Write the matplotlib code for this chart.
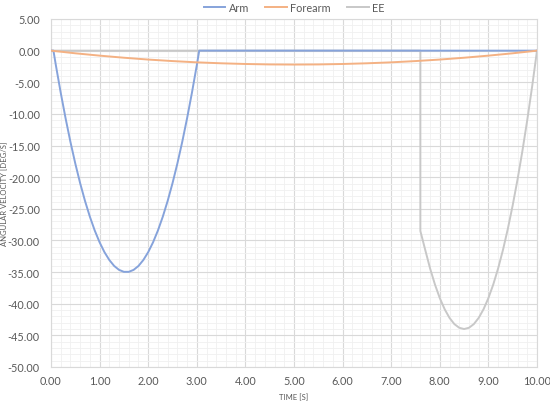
import matplotlib.pyplot as plt
from matplotlib.ticker import MultipleLocator, FormatStrFormatter

plt.rcParams["font.family"] = ["Lato", "DejaVu Sans"]

# time samples (s) and angular velocity (deg/s)
t_arm = [0.0, 0.05, 0.1, 0.2, 0.3, 0.4, 0.5, 0.6, 0.7, 0.8, 0.9, 1.0,
         1.1, 1.2, 1.3, 1.4, 1.5, 1.6, 1.7, 1.8, 1.9, 2.0,
         2.1, 2.2, 2.3, 2.4, 2.5, 2.6, 2.7, 2.8, 2.9, 3.0, 3.05, 10.0]
arm = [0.0, 0.0, -2.30, -6.65, -10.69, -14.43, -17.85, -20.96, -23.76, -26.25, -28.43, -30.29,
       -31.85, -33.09, -34.03, -34.65, -34.96, -34.96, -34.65, -34.03, -33.09, -31.85,
       -30.29, -28.43, -26.25, -23.76, -20.96, -17.85, -14.43, -10.69, -6.65, -2.30, 0.0, 0.0]

t_fore = [0.0, 0.5, 1.0, 1.5, 2.0, 2.5, 3.0, 3.5, 4.0, 4.5, 5.0,
          5.5, 6.0, 6.5, 7.0, 7.5, 8.0, 8.5, 9.0, 9.5, 10.0]
forearm = [0.0, -0.42, -0.79, -1.12, -1.41, -1.65, -1.85, -2.00, -2.11, -2.18, -2.20,
           -2.18, -2.11, -2.00, -1.85, -1.65, -1.41, -1.12, -0.79, -0.42, 0.0]

t_ee = [0.0, 7.6, 7.6, 7.7, 7.8, 7.9, 8.0, 8.1, 8.2, 8.3, 8.4, 8.5,
        8.6, 8.7, 8.8, 8.9, 9.0, 9.1, 9.2, 9.3, 9.4, 9.5, 9.6, 9.7, 9.8, 9.9, 10.0]
ee = [0.0, 0.0, -28.5, -31.49, -34.42, -36.96, -39.11, -40.87, -42.24, -43.22, -43.80, -44.0,
      -43.80, -43.22, -42.24, -40.87, -39.11, -36.96, -34.42, -31.49, -28.16, -24.44, -20.34,
      -15.84, -10.95, -5.67, 0.0]

fig = plt.figure(figsize=(5.5, 4.02), dpi=100)
ax = fig.add_axes([51 / 550, 34 / 402, 486 / 550, 348 / 402])

ax.plot(t_arm, arm, color="#86A3DB", lw=1.4, label="Arm", zorder=3)
ax.plot(t_fore, forearm, color="#F4B183", lw=1.4, label="Forearm", zorder=3)
ax.plot(t_ee, ee, color="#C8C8C8", lw=1.4, label="EE", zorder=2)

ax.set_xlim(0, 10)
ax.set_ylim(-50, 5)
ax.xaxis.set_major_locator(MultipleLocator(1))
ax.xaxis.set_minor_locator(MultipleLocator(0.2))
ax.yaxis.set_major_locator(MultipleLocator(5))
ax.yaxis.set_minor_locator(MultipleLocator(1))
ax.xaxis.set_major_formatter(FormatStrFormatter("%.2f"))
ax.yaxis.set_major_formatter(FormatStrFormatter("%.2f"))

ax.grid(which="major", color="#D9D9D9", lw=0.8)
ax.grid(which="minor", color="#F0F0F0", lw=0.6)
ax.set_axisbelow(True)
for s in ax.spines.values():
    s.set_color("#D9D9D9")
    s.set_linewidth(0.8)

ax.tick_params(which="both", length=0, colors="#595959", labelsize=7.8)
ax.tick_params(axis="y", pad=8)
ax.tick_params(axis="x", pad=6)

ax.set_xlabel("TIME [S]", fontsize=5.5, color="#595959")
ax.set_ylabel("ANGULAR VELOCITY [DEG/S]", fontsize=5.5, color="#595959")
ax.xaxis.set_label_coords(0.5, -0.075)
ax.yaxis.set_label_coords(-0.088, 0.5)

ax.legend(loc="lower center", bbox_to_anchor=(0.5, 1.0), ncol=3, frameon=False,
          fontsize=7.8, labelcolor="#595959", handlelength=2.0, columnspacing=1.5,
          borderaxespad=0.15, handletextpad=0.3)

fig.savefig("out.png", dpi=100)
